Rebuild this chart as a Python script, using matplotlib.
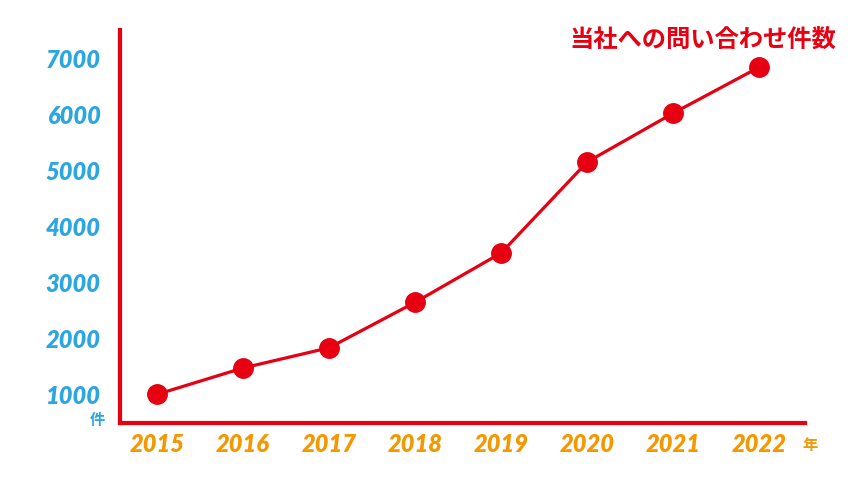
import matplotlib.pyplot as plt

years = [2015, 2016, 2017, 2018, 2019, 2020, 2021, 2022]
counts = [1010, 1480, 1840, 2650, 3530, 5150, 6020, 6840]
yticks = [1000, 2000, 3000, 4000, 5000, 6000, 7000]

red = "#e60012"
blue = "#2ca6e0"
orange = "#f39800"

plt.rcParams['font.family'] = ['Lato', 'Noto Sans CJK JP', 'DejaVu Sans']

fig = plt.figure(figsize=(8.54, 4.94), dpi=100)
ax = fig.add_axes([120 / 854, 1 - 423 / 494, 685 / 854, 393 / 494])

ax.plot(years, counts, color=red, lw=2.3, marker='o', ms=14, mfc=red, mec=red, zorder=3)

ax.set_xlim(2014.57, 2022.53)
ax.set_ylim(500, 7500)
ax.set_xticks(years)
ax.set_yticks(yticks)

for s in ['top', 'right']:
    ax.spines[s].set_visible(False)
for s in ['left', 'bottom']:
    ax.spines[s].set_color(red)
    ax.spines[s].set_linewidth(3)

ax.tick_params(axis='both', length=0)
ax.tick_params(axis='y', pad=14)
ax.tick_params(axis='x', pad=7)
for lab in ax.get_yticklabels():
    lab.set_color(blue)
    lab.set_fontsize(17)
    lab.set_fontweight('heavy')
    lab.set_fontstyle('italic')
for lab in ax.get_xticklabels():
    lab.set_color(orange)
    lab.set_fontsize(17)
    lab.set_fontweight('heavy')
    lab.set_fontstyle('italic')

# unit labels
fig.text(97 / 854, 1 - 420 / 494, "件", color=blue, fontsize=11, fontweight='bold',
         family=['Noto Sans CJK JP'], ha='center', va='center')
fig.text(810 / 854, 1 - 445 / 494, "年", color=orange, fontsize=11, fontweight='bold',
         family=['Noto Sans CJK JP'], ha='center', va='center')

fig.text(836 / 854, 1 - 40 / 494, "当社への問い合わせ件数", color=red, fontsize=17.5,
         fontweight='bold', family=['Noto Sans CJK JP'], ha='right', va='center')

fig.savefig("out.png", dpi=100)
